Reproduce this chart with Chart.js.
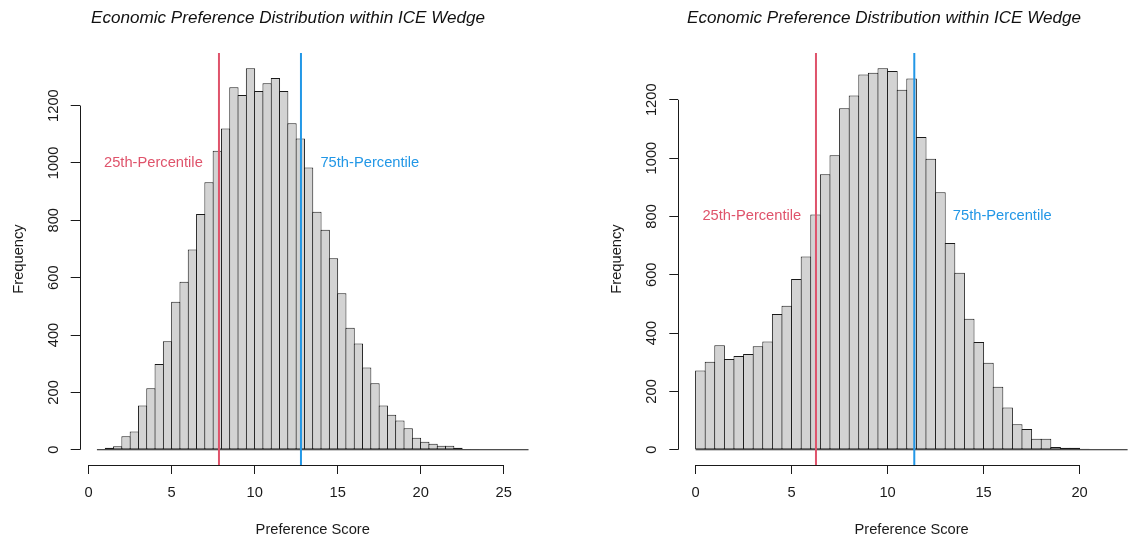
<!DOCTYPE html>
<html lang="en">
<head>
  <meta charset="UTF-8" />
  <title>Economic Preference Distribution within ICE Wedge</title>
  <script src="https://cdn.jsdelivr.net/npm/chart.js"></script>
  <style>
    html, body { margin: 0; padding: 0; background: #fff; overflow: hidden; }
    body { width: 1133px; height: 542px; position: relative; }
    canvas { position: absolute; top: 0; }
    #leftChart { left: 0; }
    #rightChart { left: 566px; }
  </style>
</head>
<body>
  <canvas id="leftChart" width="566" height="542"></canvas>
  <canvas id="rightChart" width="600" height="542"></canvas>

  <script>
    const titleText = "Economic Preference Distribution within ICE Wedge";
    const xLabel = "Preference Score";
    const yLabel = "Frequency";
    const binWidth = 0.5;
    const yTicks = [0, 200, 400, 600, 800, 1000, 1200];

    // left panel: bins of 0.5 starting at 0.5
    const leftBinStart = 0.5;
    const leftCounts = [
      3, 7, 12, 47, 64, 154, 214, 299, 378, 516, 586, 698, 822, 933, 1042, 1120,
      1264, 1237, 1330, 1251, 1278, 1296, 1251, 1138, 1085, 984, 830, 767, 668, 546,
      425, 370, 287, 232, 154, 122, 102, 75, 42, 28, 21, 14, 14, 7, 3, 3,
      0, 0, 0, 0, 0, 0
    ];
    const leftPercentiles = [7.85, 12.79];
    const leftXTicks = [0, 5, 10, 15, 20, 25];

    // right panel: bins of 0.5 starting at 0
    const rightBinStart = 0;
    const rightCounts = [
      272, 302, 358, 311, 321, 328, 355, 371, 465, 494, 585, 663, 807, 945, 1010, 1171,
      1215, 1287, 1293, 1308, 1299, 1234, 1273, 1072, 998, 883, 709, 607, 449, 369,
      298, 216, 145, 87, 71, 38, 38, 9, 7, 7, 3, 0, 0, 0, 0
    ];
    const rightPercentiles = [6.27, 11.39];
    const rightXTicks = [0, 5, 10, 15, 20];

    const pctLabels = ["25th-Percentile", "75th-Percentile"];
    const pctColors = ["#DF536B", "#2297E6"];

    const FONT = '"Liberation Sans", Arial, Helvetica, sans-serif';
    const INK = "#1a1a1a";
    Chart.defaults.font.family = FONT;
    Chart.defaults.color = INK;

    // titles, percentile notes and the R-style axis lines
    const annotate = {
      id: "annotate",
      afterDraw(chart, args, opts) {
        const { ctx, chartArea, scales: { x, y } } = chart;
        ctx.save();
        ctx.textAlign = "center";
        ctx.textBaseline = "middle";
        ctx.fillStyle = "#111";
        ctx.font = "italic 17.1px " + FONT;
        ctx.fillText(titleText, opts.titleX, 18);

        ctx.font = "14.7px " + FONT;
        opts.notes.forEach((n, i) => {
          ctx.fillStyle = pctColors[i];
          ctx.fillText(pctLabels[i], x.getPixelForValue(n.x), y.getPixelForValue(n.y));
        });

        ctx.strokeStyle = INK;
        ctx.lineWidth = 1;
        ctx.beginPath();
        const by = Math.round(chartArea.bottom) + 0.5;
        ctx.moveTo(x.getPixelForValue(opts.xTicks[0]), by);
        ctx.lineTo(x.getPixelForValue(opts.xTicks[opts.xTicks.length - 1]), by);
        const lx = Math.round(chartArea.left) + 0.5;
        ctx.moveTo(lx, y.getPixelForValue(yTicks[0]));
        ctx.lineTo(lx, y.getPixelForValue(yTicks[yTicks.length - 1]));
        ctx.stroke();
        ctx.restore();
      }
    };

    function makeHist(id, p) {
      const lo = p.binStart;
      const hi = p.binStart + p.counts.length * binWidth;
      const xMin = lo - 0.04 * (hi - lo);
      const xMax = hi + 0.04 * (hi - lo);
      const top = Math.max(...p.counts);
      const yMin = -0.04 * top;
      const yMax = 1.04 * top;
      const pxPerUnit = (p.plotRight - p.plotLeft) / (xMax - xMin);

      const bars = p.counts.map((c, i) => ({ x: lo + (i + 0.5) * binWidth, y: c }));

      const datasets = [
        {
          type: "bar",
          data: bars,
          backgroundColor: "#D3D3D3",
          borderColor: INK,
          borderWidth: 1,
          borderSkipped: false,
          inflateAmount: 0,
          barThickness: pxPerUnit * binWidth + 1,
          order: 3
        },
        {
          type: "line",
          data: [{ x: lo, y: 0 }, { x: hi, y: 0 }],
          borderColor: INK,
          borderWidth: 1,
          pointRadius: 0,
          order: 2
        }
      ];
      p.percentiles.forEach((v, i) => {
        datasets.push({
          type: "line",
          data: [{ x: v, y: yMin }, { x: v, y: yMax }],
          borderColor: pctColors[i],
          borderWidth: 2,
          pointRadius: 0,
          order: 1
        });
      });

      new Chart(document.getElementById(id), {
        type: "bar",
        data: { datasets },
        options: {
          responsive: false,
          animation: false,
          layout: { padding: { top: 53, left: 0, right: p.canvasWidth - p.plotRight, bottom: 0 } },
          plugins: {
            legend: { display: false },
            tooltip: { enabled: false },
            annotate: { titleX: p.titleX, notes: p.notes, xTicks: p.xTicks }
          },
          scales: {
            x: {
              type: "linear",
              min: xMin,
              max: xMax,
              offset: false,
              afterBuildTicks: s => { s.ticks = p.xTicks.map(v => ({ value: v })); },
              afterFit: s => { s.height = 77; },
              border: { display: false },
              grid: { offset: false, drawOnChartArea: false, drawTicks: true, tickLength: 9, color: INK, tickColor: INK },
              ticks: { autoSkip: false, maxRotation: 0, padding: 10.2, font: { size: 14.7 }, color: INK, callback: v => String(v) },
              title: { display: true, text: xLabel, font: { size: 14.7 }, color: INK, padding: { top: 0, bottom: 3.2 } }
            },
            y: {
              type: "linear",
              min: yMin,
              max: yMax,
              afterBuildTicks: s => { s.ticks = yTicks.map(v => ({ value: v })); },
              afterFit: s => { s.width = p.plotLeft; },
              border: { display: false },
              grid: { drawOnChartArea: false, drawTicks: true, tickLength: 9, color: INK, tickColor: INK },
              ticks: { minRotation: 90, maxRotation: 90, crossAlign: "center", padding: 0.8, font: { size: 14.7 }, color: INK, callback: v => String(v) },
              title: { display: true, text: yLabel, font: { size: 14.7 }, color: INK, padding: { top: p.yTitlePad, bottom: 0 } }
            }
          }
        },
        plugins: [annotate]
      });
    }

    makeHist("leftChart", {
      counts: leftCounts,
      binStart: leftBinStart,
      percentiles: leftPercentiles,
      xTicks: leftXTicks,
      canvasWidth: 566,
      plotLeft: 79.7,
      plotRight: 545.8,
      titleX: 288,
      yTitlePad: 9.7,
      notes: [{ x: 3.9, y: 1000 }, { x: 16.94, y: 1000 }]
    });

    makeHist("rightChart", {
      counts: rightCounts,
      binStart: rightBinStart,
      percentiles: rightPercentiles,
      xTicks: rightXTicks,
      canvasWidth: 600,
      plotLeft: 112.3,
      plotRight: 578.9,
      titleX: 318,
      yTitlePad: 42.2,
      notes: [{ x: 2.93, y: 800 }, { x: 15.97, y: 800 }]
    });
  </script>
</body>
</html>
